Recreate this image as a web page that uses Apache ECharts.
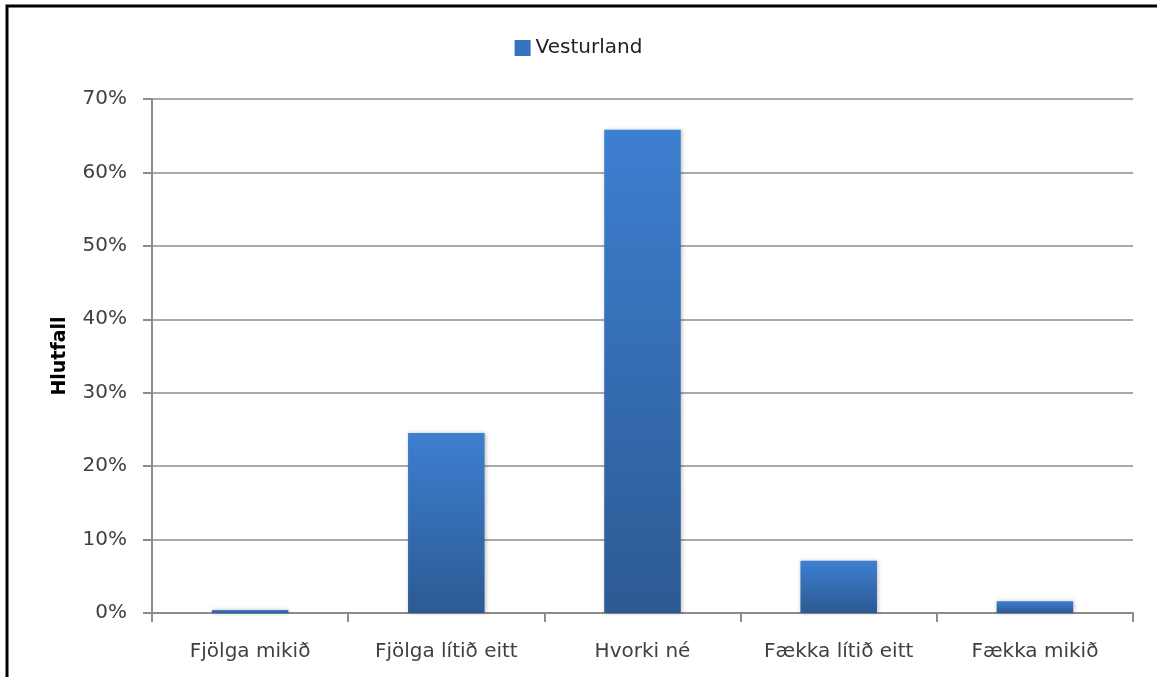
<!DOCTYPE html>
<html>
<head>
<meta charset="utf-8">
<script src="https://cdn.jsdelivr.net/npm/echarts@6/dist/echarts.min.js"></script>
<style>
    html, body { margin: 0; padding: 0; background: #fff; }
    #chart { width: 1157px; height: 677px; }
</style>
</head>
<body>
<div id="chart"></div>
<script>
// data
var categories = ['Fjölga mikið', 'Fjölga lítið eitt', 'Hvorki né', 'Fækka lítið eitt', 'Fækka mikið'];
var seriesName = 'Vesturland';
var values = [0.4, 24.5, 65.8, 7.1, 1.6];
var yTicks = [0, 10, 20, 30, 40, 50, 60, 70];

var font = '"DejaVu Sans", "Open Sans", sans-serif';
var myChart = echarts.init(document.getElementById('chart'));
var option = {
    animation: false,
    textStyle: { fontFamily: font },
    graphic: [{
        type: 'rect',
        shape: { x: 7, y: 6, width: 1200, height: 720 },
        style: { fill: 'none', stroke: '#000', lineWidth: 3 },
        silent: true
    }],
    legend: {
        top: 33,
        left: 'center',
        itemWidth: 16,
        itemHeight: 16,
        icon: 'rect',
        textStyle: { color: '#222', fontSize: 20, fontFamily: font },
        data: [{ name: seriesName, itemStyle: { color: '#3770bd' } }]
    },
    grid: { left: 152, right: 24, top: 99, bottom: 64 },
    xAxis: {
        type: 'category',
        data: categories,
        axisLine: { lineStyle: { color: '#8c8c8c', width: 2 } },
        axisTick: { show: true, length: 9, lineStyle: { color: '#8c8c8c', width: 2 } },
        axisLabel: { color: '#404040', fontSize: 20, margin: 29, interval: 0 }
    },
    yAxis: {
        type: 'value',
        min: 0,
        max: 70,
        interval: 10,
        name: 'Hlutfall',
        nameLocation: 'middle',
        nameGap: 82,
        nameRotate: 90,
        nameTextStyle: { color: '#000', fontWeight: 'bold', fontSize: 19 },
        axisLine: { show: true, lineStyle: { color: '#8c8c8c', width: 2 } },
        axisTick: { show: true, length: 9, lineStyle: { color: '#8c8c8c', width: 2 } },
        splitLine: { lineStyle: { color: '#8c8c8c', width: 1.5 } },
        axisLabel: {
            color: '#404040', fontSize: 20, margin: 25,
            formatter: function (v) { return yTicks.indexOf(v) >= 0 ? v + '%' : ''; }
        }
    },
    series: [{
        name: seriesName,
        type: 'bar',
        barWidth: '39%',
        data: values,
        itemStyle: {
            color: new echarts.graphic.LinearGradient(0, 0, 0, 1, [
                { offset: 0, color: '#3d7fd1' },
                { offset: 1, color: '#2c5a93' }
            ]),
            shadowColor: 'rgba(0,0,0,0.25)',
            shadowBlur: 4,
            shadowOffsetX: 1
        }
    }]
};
myChart.setOption(option, true);
window.addEventListener('resize', function () { myChart.resize(); });
</script>
</body>
</html>
